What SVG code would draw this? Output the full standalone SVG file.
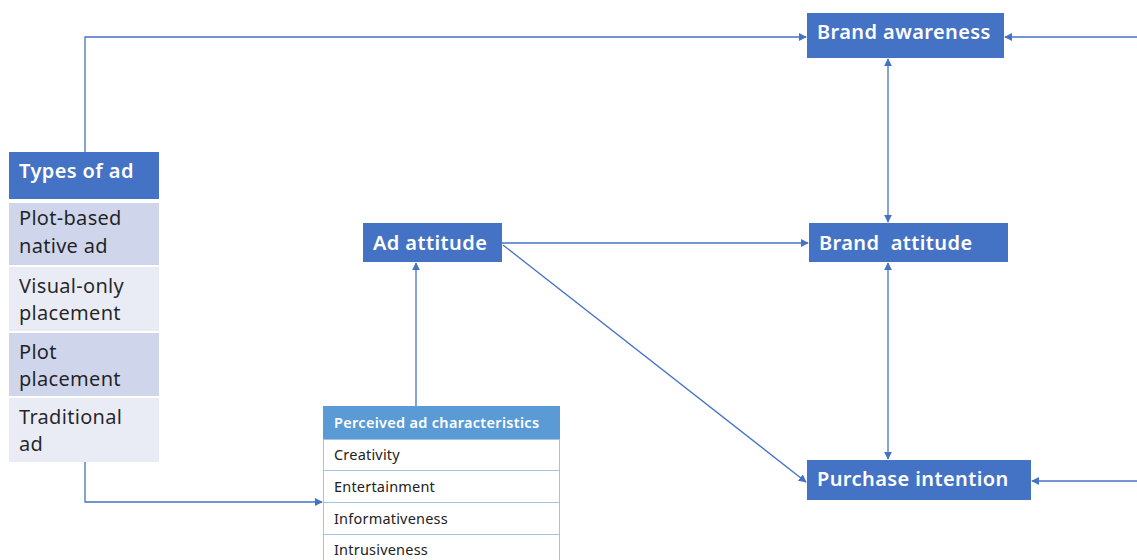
<svg xmlns="http://www.w3.org/2000/svg" width="1137" height="560" viewBox="0 0 1137 560">
<style>
.hdr{fill:#4472C4}
.node text{font-family:"Noto Sans","Liberation Sans",sans-serif}
.wt{fill:#fff;font-size:20px;font-weight:600;letter-spacing:0.4px}
.bt{fill:#000;font-size:20px;fill-opacity:0.85;letter-spacing:0.3px}
.pt{fill:#222;font-size:14.5px;letter-spacing:0.2px}
.ph{fill:#fff;font-size:14.5px;font-weight:600;letter-spacing:0.3px}
.conn path{fill:none;stroke:#4472C4;stroke-width:1.3}
</style>
<defs>
<marker id="ah" viewBox="0 0 10 10" refX="9" refY="5" markerWidth="8" markerHeight="8" markerUnits="userSpaceOnUse" orient="auto-start-reverse">
<path d="M0,0 L10,5 L0,10 Z" fill="#4472C4"/>
</marker>
</defs>
<rect width="1137" height="560" fill="#fff"/>
<g class="conn">
<path d="M85,152 V37 H806" marker-end="url(#ah)"/>
<path d="M1137,37 H1005" marker-end="url(#ah)"/>
<path d="M888,59 V222" marker-start="url(#ah)" marker-end="url(#ah)"/>
<path d="M502,243 H808" marker-end="url(#ah)"/>
<path d="M503,245 L806,482" marker-end="url(#ah)"/>
<path d="M888,263 V459" marker-start="url(#ah)" marker-end="url(#ah)"/>
<path d="M1137,481 H1032" marker-end="url(#ah)"/>
<path d="M85,462 V502 H322" marker-end="url(#ah)"/>
<path d="M416,406 V263" marker-end="url(#ah)"/>
</g>
<g id="types" class="node">
<rect x="9" y="152" width="150" height="47" class="hdr"/>
<text x="19" y="178" class="wt">Types of ad</text>
<rect x="9" y="203" width="150" height="62" fill="#CFD5EA"/>
<text x="19" y="225" class="bt">Plot-based</text>
<text x="19" y="253" class="bt">native ad</text>
<rect x="9" y="267" width="150" height="64" fill="#E9EBF5"/>
<text x="19" y="293" class="bt">Visual-only</text>
<text x="19" y="320" class="bt">placement</text>
<rect x="9" y="333" width="150" height="63" fill="#CFD5EA"/>
<text x="19" y="359" class="bt">Plot</text>
<text x="19" y="386" class="bt">placement</text>
<rect x="9" y="398" width="150" height="64" fill="#E9EBF5"/>
<text x="19" y="424" class="bt">Traditional</text>
<text x="19" y="451" class="bt">ad</text>
</g>
<g id="perceived" class="node">
<rect x="323" y="406" width="237" height="33" fill="#5B9BD5"/>
<text x="334" y="428" class="ph">Perceived ad characteristics</text>
<g fill="#fff" stroke="#9DC3E6" stroke-width="1">
<rect x="323.5" y="439.5" width="236" height="31"/>
<rect x="323.5" y="470.5" width="236" height="32"/>
<rect x="323.5" y="502.5" width="236" height="32"/>
<rect x="323.5" y="534.5" width="236" height="32"/>
</g>
<text x="334" y="460" class="pt">Creativity</text>
<text x="334" y="492" class="pt">Entertainment</text>
<text x="334" y="524" class="pt">Informativeness</text>
<text x="334" y="555" class="pt">Intrusiveness</text>
</g>
<g id="adatt" class="node">
<rect x="363" y="223" width="139" height="39" class="hdr"/>
<text x="373" y="250" class="wt">Ad attitude</text>
</g>
<g id="awareness" class="node">
<rect x="807" y="13" width="197" height="45" class="hdr"/>
<text x="817" y="39" class="wt">Brand awareness</text>
</g>
<g id="brandatt" class="node">
<rect x="809" y="223" width="199" height="39" class="hdr"/>
<text x="819" y="250" class="wt" xml:space="preserve">Brand  attitude</text>
</g>
<g id="purchase" class="node">
<rect x="807" y="460" width="224" height="40" class="hdr"/>
<text x="817" y="486" class="wt">Purchase intention</text>
</g>
</svg>
